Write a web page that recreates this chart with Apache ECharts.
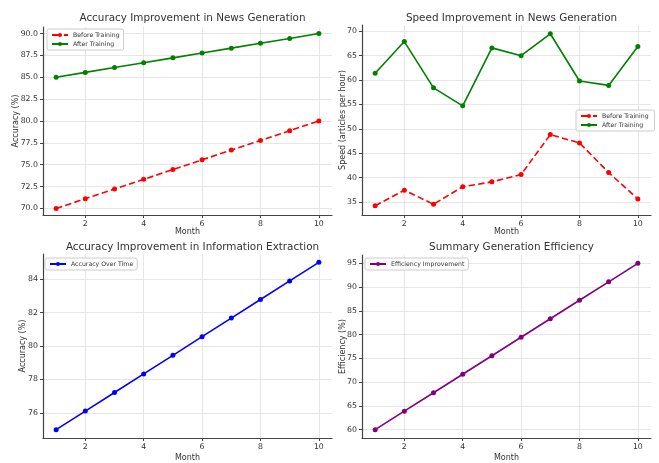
<!DOCTYPE html>
<html><head><meta charset="utf-8">
<script src="https://cdn.jsdelivr.net/npm/echarts@6/dist/echarts.min.js"></script>
<style>html,body{margin:0;padding:0;background:#fff}#c{width:659px;height:463px}</style>
</head><body><div id="c"></div>
<script>
const months = [1,2,3,4,5,6,7,8,9,10];
const xTicks = [2,4,6,8,10];
const newsAccBefore = [70.0,71.11,72.22,73.33,74.44,75.56,76.67,77.78,78.89,80.0];
const newsAccAfter = [85.0,85.56,86.11,86.67,87.22,87.78,88.33,88.89,89.44,90.0];
const speedBefore = [34.2,37.4,34.5,38.1,39.1,40.6,48.8,47.1,41.0,35.6];
const speedAfter = [61.4,67.9,58.4,54.7,66.6,65.0,69.5,59.8,58.9,66.9];
const ieAcc = [75.0,76.11,77.22,78.33,79.44,80.56,81.67,82.78,83.89,85.0];
const sumEff = [60.0,63.89,67.78,71.67,75.56,79.44,83.33,87.22,91.11,95.0];
const yTicksTL = [70,72.5,75,77.5,80,82.5,85,87.5,90];
const yTicksTR = [35,40,45,50,55,60,65,70];
const yTicksBL = [76,78,80,82,84];
const yTicksBR = [60,65,70,75,80,85,90,95];

const FONT = 'DejaVu Sans';
const pair = (xs, ys) => xs.map((x,i)=>[x, ys[i]]);
const grids = [
  {left:43, top:27, width:289, height:188},
  {left:362, top:25, width:289, height:190},
  {left:43, top:254, width:289, height:191},
  {left:362, top:255, width:289, height:190}
];
function xAxis(i,gap){
  return {type:'value', gridIndex:i, min:0.55, max:10.45, name:'Month', nameLocation:'middle', nameGap:gap,
    nameMoveOverlap:false,
    nameTextStyle:{fontFamily:FONT,fontSize:8,color:'#333'},
    axisLine:{show:true,lineStyle:{color:'#444',width:1.2}},
    axisTick:{show:true,length:3,customValues:xTicks,lineStyle:{color:'#444'}},
    axisLabel:{customValues:xTicks,fontFamily:FONT,fontSize:7.8,color:'#333',margin:5},
    splitLine:{show:true,lineStyle:{color:'#e6e6e6',width:1}}};
}
function yAxis(i,min,max,ticks,name,fmt,gap){
  return {type:'value', gridIndex:i, min:min, max:max, name:name, nameLocation:'middle', nameGap:gap,
    nameMoveOverlap:false,
    nameTextStyle:{fontFamily:FONT,fontSize:8,color:'#333'},
    axisLine:{show:true,lineStyle:{color:'#444',width:1.2}},
    axisTick:{show:true,length:3,customValues:ticks,lineStyle:{color:'#444'}},
    axisLabel:{customValues:ticks,fontFamily:FONT,fontSize:7.8,color:'#333',margin:5,formatter:fmt},
    splitLine:{show:true,lineStyle:{color:'#e6e6e6',width:1}}};
}
function line(name,i,data,color,dashed){
  return {type:'line', name:name, xAxisIndex:i, yAxisIndex:i, data:pair(months,data),
    symbol:'circle', symbolSize:5, showSymbol:true,
    itemStyle:{color:color}, lineStyle:{color:color,width:1.6,type:dashed?'dashed':'solid'},
    emphasis:{disabled:true}, animation:false};
}
function title(text,cx,y){
  return {text:text, left:cx, top:y, textAlign:'center',
    textStyle:{fontFamily:FONT,fontSize:10.4,fontWeight:'normal',color:'#333'}};
}
function legend(data,left,top){
  return {data:data, left:left, top:top, orient:'vertical', itemWidth:16, itemHeight:5, itemGap:3,
    padding:[3,4,3,4], borderColor:'#ccc', borderWidth:1, borderRadius:2, backgroundColor:'#fff',
    textStyle:{fontFamily:FONT,fontSize:6.2,color:'#333'}, selectedMode:false};
}
const chart = echarts.init(document.getElementById('c'), null, {renderer:'canvas'});
chart.setOption({
  backgroundColor:'#fff',
  animation:false,
  title:[
    title('Accuracy Improvement in News Generation',187.5,8),
    title('Speed Improvement in News Generation',506.5,8),
    title('Accuracy Improvement in Information Extraction',187.5,237),
    title('Summary Generation Efficiency',506.5,237)
  ],
  legend:[
    legend([{name:'Before Training'},{name:'After Training'}],47,29),
    legend([{name:'Before Training '},{name:'After Training '}],576,110),
    legend([{name:'Accuracy Over Time'}],45,258),
    legend([{name:'Efficiency Improvement'}],365,258)
  ],
  grid:grids,
  xAxis:[xAxis(0,13),xAxis(1,13),xAxis(2,16),xAxis(3,16)],
  yAxis:[
    yAxis(0,69.25,90.75,yTicksTL,'Accuracy (%)',v=>v.toFixed(1),23.5),
    yAxis(1,32.3,71.3,yTicksTR,'Speed (articles per hour)',v=>String(v),15),
    yAxis(2,74.5,85.5,yTicksBL,'Accuracy (%)',v=>String(v),16.5),
    yAxis(3,58.25,96.75,yTicksBR,'Efficiency (%)',v=>String(v),15)
  ],
  series:[
    line('Before Training',0,newsAccBefore,'#ff0000',true),
    line('After Training',0,newsAccAfter,'#008000',false),
    line('Before Training ',1,speedBefore,'#ff0000',true),
    line('After Training ',1,speedAfter,'#008000',false),
    line('Accuracy Over Time',2,ieAcc,'#0000ff',false),
    line('Efficiency Improvement',3,sumEff,'#800080',false)
  ]
});
</script></body></html>
